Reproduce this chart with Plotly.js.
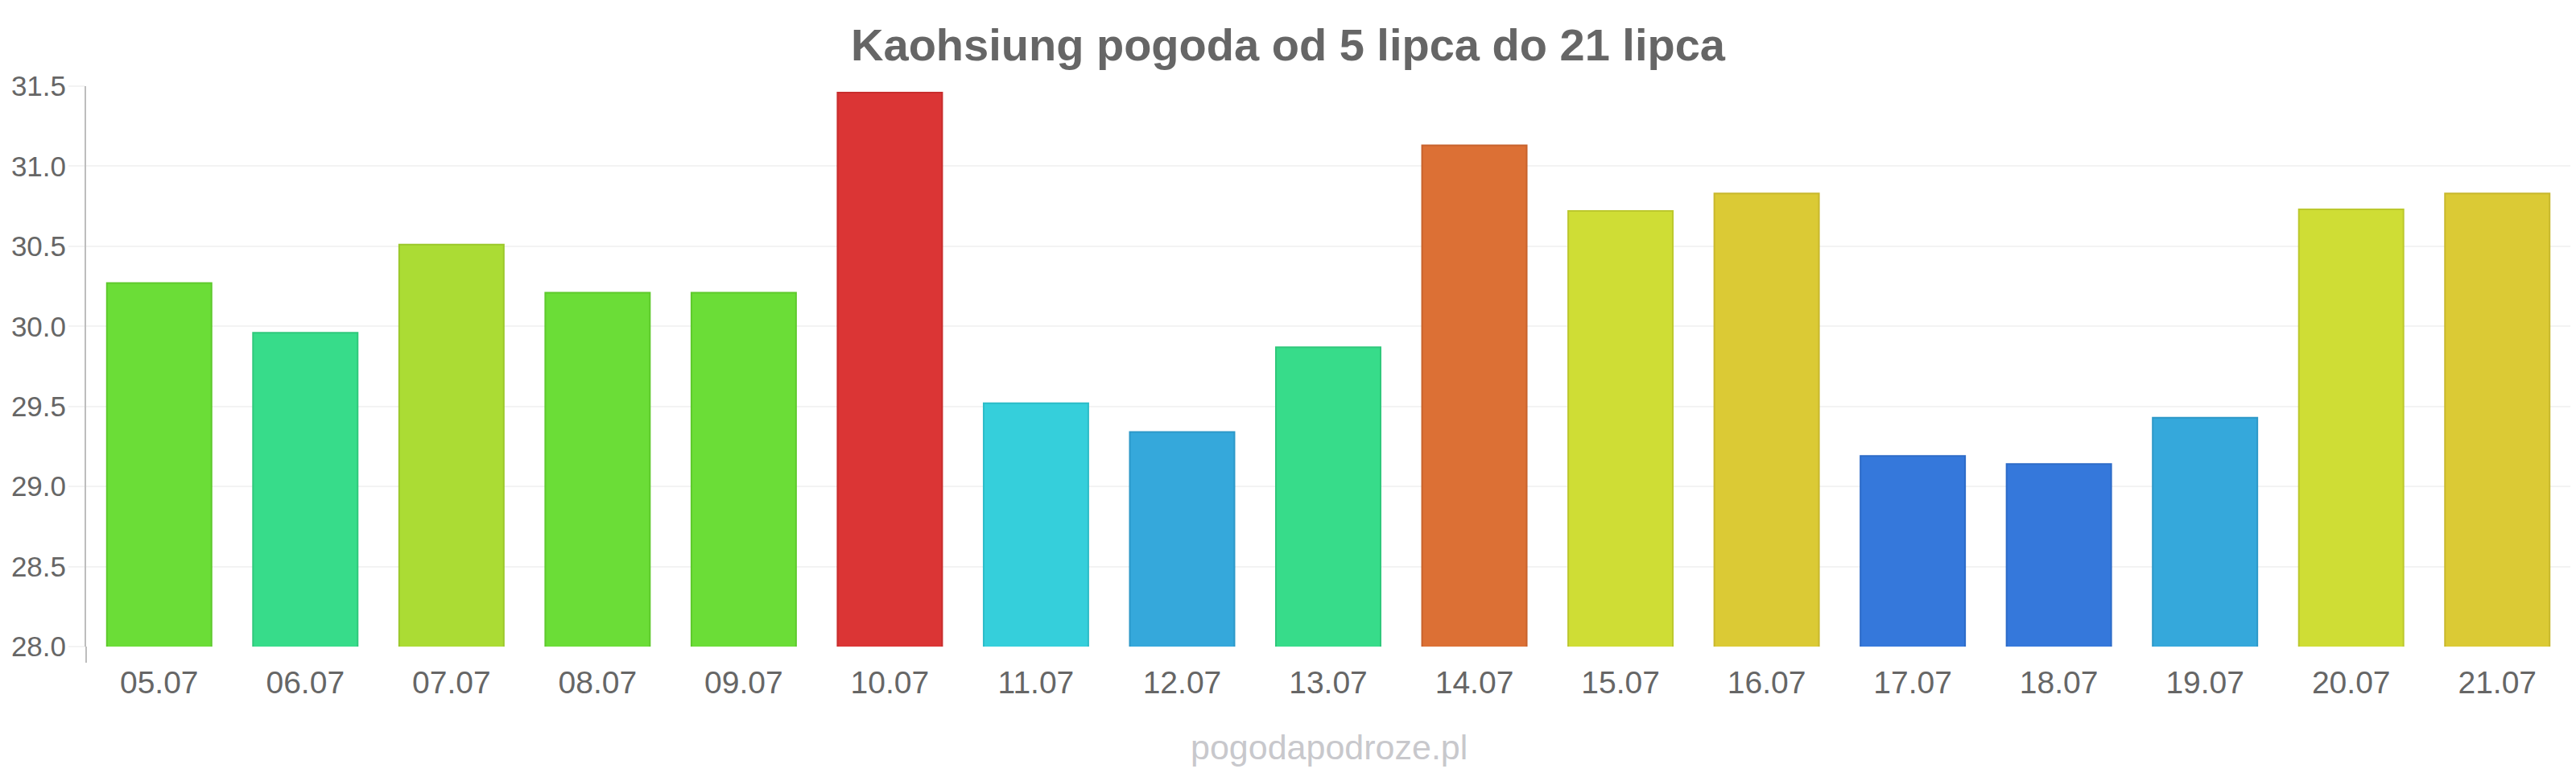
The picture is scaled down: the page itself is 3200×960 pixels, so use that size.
<!DOCTYPE html>
<html>
<head>
<meta charset="utf-8">
<script src="https://cdn.plot.ly/plotly-3.0.1.min.js"></script>
<style>
  html, body { margin: 0; padding: 0; background: #ffffff; }
  #chart { width: 3200px; height: 960px; }
</style>
</head>
<body>
<div id="chart"></div>
<script>
// Daily temperatures, Kaohsiung, 5–21 July
const days = ["05.07", "06.07", "07.07", "08.07", "09.07", "10.07", "11.07", "12.07", "13.07",
              "14.07", "15.07", "16.07", "17.07", "18.07", "19.07", "20.07", "21.07"];
const temps = [30.27, 29.96, 30.51, 30.21, 30.21, 31.46, 29.52, 29.34, 29.87,
               31.13, 30.72, 30.83, 29.19, 29.14, 29.43, 30.73, 30.83];
const fillColors = ["#6bdd37", "#37dc8a", "#abdc34", "#6bdd37", "#6bdd37", "#db3535", "#35cfdb", "#35a8db", "#37dc8a",
                    "#dc7035", "#cfdd35", "#dbca35", "#3578db", "#3578db", "#35a8db", "#cfdd35", "#dbca35"];
const edgeColors = ["#5ec92c", "#2fc87b", "#9bc82b", "#5ec92c", "#5ec92c", "#c82d2d", "#2dbcc8", "#2d98c8", "#2fc87b",
                    "#c8622d", "#bcc82d", "#c8b82d", "#2d6bc8", "#2d6bc8", "#2d98c8", "#bcc82d", "#c8b82d"];
const yTicks = [28.0, 28.5, 29.0, 29.5, 30.0, 30.5, 31.0, 31.5];

const FONT = "Liberation Sans, Arial, sans-serif";

const trace = {
  type: "bar",
  x: days,
  y: temps,
  base: 0,
  marker: { color: fillColors, line: { color: edgeColors, width: 2 } },
  hoverinfo: "x+y"
};

const layout = {
  width: 3200,
  height: 960,
  margin: { l: 107, r: 7, t: 107, b: 157 },
  paper_bgcolor: "#ffffff",
  plot_bgcolor: "#ffffff",
  showlegend: false,
  bargap: 0.284,
  font: { family: FONT, color: "#666666" },
  title: {
    text: "<b>Kaohsiung pogoda od 5 lipca do 21 lipca</b>",
    font: { family: FONT, size: 56, color: "#666666" },
    x: 0.5, xanchor: "center",
    y: 1 - 55 / 960, yanchor: "middle", yref: "container"
  },
  xaxis: {
    type: "category",
    tickfont: { family: FONT, size: 39, color: "#666666" },
    showgrid: false,
    zeroline: false,
    showline: false,
    ticks: "",
    ticklabelstandoff: 18,
    fixedrange: true
  },
  yaxis: {
    range: [28, 31.5],
    tickvals: yTicks,
    ticktext: yTicks.map(v => v.toFixed(1)),
    tickfont: { family: FONT, size: 35, color: "#666666" },
    showgrid: true,
    gridcolor: "#f3f3f3",
    gridwidth: 2,
    zeroline: false,
    showline: true,
    linecolor: "#bdbdbd",
    linewidth: 2,
    ticks: "outside",
    ticklen: 20,
    tickwidth: 2,
    tickcolor: "#f3f3f3",
    ticklabelstandoff: -4,
    fixedrange: true
  },
  shapes: [
    // short downward extension of the value axis below the plot floor
    { type: "line", xref: "paper", yref: "paper", x0: 0, x1: 0, y0: 0, y1: -20 / 696,
      line: { color: "#bdbdbd", width: 2 } }
  ],
  annotations: [
    { text: "pogodapodroze.pl", xref: "paper", yref: "paper",
      x: (1651 - 107) / 3086, y: (803.5 - 928) / 696,
      xanchor: "center", yanchor: "middle", showarrow: false,
      font: { family: FONT, size: 43, color: "#c8c8cc" } }
  ]
};

Plotly.newPlot("chart", [trace], layout, { displayModeBar: false, staticPlot: true });
</script>
</body>
</html>
